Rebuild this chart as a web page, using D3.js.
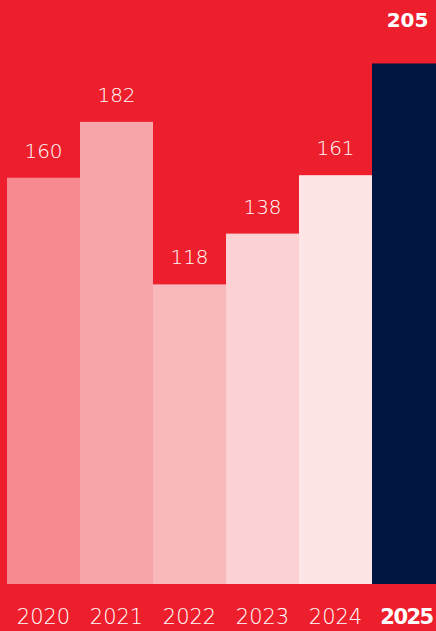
<!DOCTYPE html>
<html>
<head>
<meta charset="utf-8">
<script src="https://cdn.jsdelivr.net/npm/d3@7"></script>
<style>
  html, body { margin: 0; padding: 0; background: #ee1f2c; overflow: hidden; }
  svg { display: block; }
  text { font-family: "DejaVu Sans", "Noto Sans", sans-serif; fill: #ffffff; }
</style>
</head>
<body>
<div class="chart"></div>
<script>
// Chart data
const years = ['2020', '2021', '2022', '2023', '2024', '2025'];
const values = [160, 182, 118, 138, 161, 205];
const barColors = ['#f78a90', '#f7a5a8', '#f9b9bc', '#fbd1d3', '#fde5e6', '#001641'];

// Size of SVG
const svgWidth = 436;
const svgHeight = 631;

// baseline of the bars
const baseY = 584;

const svg = d3
  .select('.chart')
  .append('svg')
  .attr('width', svgWidth)
  .attr('height', svgHeight);

// background
svg.append('rect')
  .attr('width', svgWidth)
  .attr('height', svgHeight)
  .attr('fill', '#ee1f2c');

// Scales
const xScale = d3.scaleBand()
  .domain(years)
  .range([7, 7 + 6 * 73])
  .padding(0);

const yScale = d3.scaleLinear()
  .domain([0, 230])
  .range([baseY, 0]);

// Bars
svg.selectAll('.bar')
  .data(years)
  .enter()
  .append('rect')
  .classed('bar', true)
  .attr('x', (d) => xScale(d))
  .attr('y', (d, i) => yScale(values[i]))
  .attr('width', xScale.bandwidth())
  .attr('height', (d, i) => baseY - yScale(values[i]))
  .attr('fill', (d, i) => barColors[i]);

// Value labels above bars
svg.selectAll('.valueText')
  .data(years)
  .enter()
  .append('text')
  .classed('valueText', true)
  .attr('x', (d, i) => xScale(d) + xScale.bandwidth() / 2 + (i === 5 ? -1 : 0))
  .attr('y', (d, i) => yScale(values[i]) - (i === 5 ? 36 : 20))
  .attr('text-anchor', 'middle')
  .attr('font-size', '20px')
  .attr('font-weight', (d, i) => (i === 5 ? 'bold' : 300))
  .text((d, i) => values[i]);

// Year labels on bottom (axis without lines)
const xAxis = d3.axisBottom(xScale).tickSize(0).tickPadding(0);
const axisG = svg.append('g')
  .attr('transform', `translate(0, 624)`)
  .call(xAxis);
axisG.select('.domain').remove();
axisG.selectAll('text')
  .attr('fill', '#ffffff')
  .attr('font-size', '21px')
  .attr('font-family', '"DejaVu Sans", sans-serif')
  .attr('font-weight', (d) => (d === '2025' ? 'bold' : 300))
  .attr('letter-spacing', (d) => (d === '2025' ? '-1.5px' : null))
  .attr('x', (d) => (d === '2025' ? -2 : 0))
  .attr('y', 0)
  .attr('dy', 0);
</script>
</body>
</html>
